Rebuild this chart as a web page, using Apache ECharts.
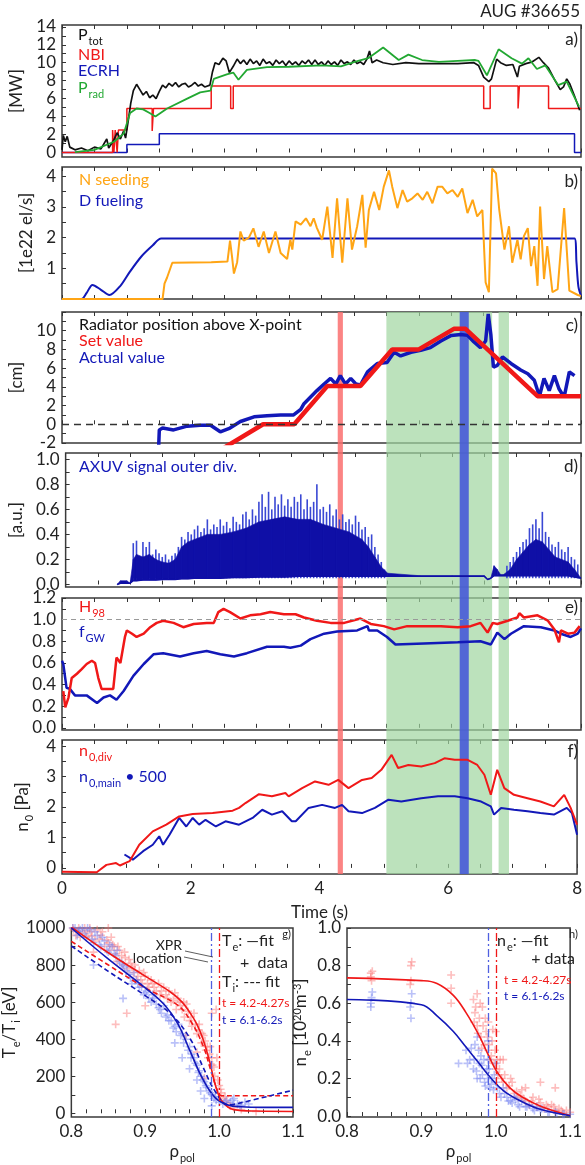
<!DOCTYPE html>
<html>
<head>
<meta charset="utf-8">
<script src="https://cdn.jsdelivr.net/npm/echarts@6/dist/echarts.min.js"></script>
<style>
  html, body { margin: 0; padding: 0; background: #fff; }
  #chart { width: 585px; height: 1165px; }
</style>
</head>
<body>
<div id="chart"></div>
<script>
// ---- panel a) heating / radiated power [MW]
const ptot = [[0,0.3],[0.02,1.9],[0.05,1.2],[0.08,1.8],[0.12,0.6],[0.2,0.3],[0.3,0.5],[0.4,0.2],[0.5,0.6],[0.6,0.4],[0.69,1.5],[0.72,0.5],[0.8,1.4],[0.85,2.2],[0.9,1.5],[0.95,2.4],[0.98,1.6],[1.02,3.5],[1.06,5.5],[1.1,6.9],[1.15,7.6],[1.2,7.0],[1.25,6.4],[1.3,6.8],[1.35,6.1],[1.4,6.4],[1.45,6.0],[1.5,6.8],[1.55,7.5],[1.6,7.2],[1.65,7.7],[1.7,7.4],[1.75,7.8],[1.8,7.3],[1.85,7.6],[1.9,7.7],[1.95,7.3],[2.0,7.5],[2.05,7.8],[2.1,7.4],[2.15,7.6],[2.2,7.3],[2.28,7.5],[2.32,9.0],[2.36,10.0],[2.42,9.8],[2.48,10.5],[2.53,10.2],[2.58,8.9],[2.64,9.6],[2.7,10.4],[2.75,9.9],[2.8,10.3],[2.85,9.8],[2.9,10.4],[2.95,9.9],[3.0,10.2],[3.05,9.7],[3.1,10.4],[3.15,9.9],[3.2,10.1],[3.25,9.7],[3.3,10.3],[3.35,9.9],[3.4,10.2],[3.45,9.7],[3.5,10.2],[3.55,9.8],[3.6,10.1],[3.65,9.7],[3.7,10.2],[3.75,9.9],[3.8,10.3],[3.85,9.8],[3.9,10.3],[3.95,9.8],[4.0,10.1],[4.05,9.7],[4.1,10.2],[4.15,9.8],[4.2,10.1],[4.25,9.7],[4.3,10.3],[4.35,9.9],[4.4,10.1],[4.45,9.8],[4.5,10.3],[4.55,9.9],[4.6,10.1],[4.65,9.8],[4.7,10.4],[4.74,11.3],[4.78,10.0],[4.85,10.3],[4.95,10.0],[5.1,9.8],[5.3,10.0],[5.5,9.9],[5.8,9.9],[6.1,9.9],[6.35,10.0],[6.42,9.7],[6.5,8.4],[6.58,7.9],[6.62,8.2],[6.7,10.4],[6.76,10.0],[6.85,9.7],[6.95,9.8],[7.02,8.4],[7.05,9.6],[7.15,9.9],[7.25,10.1],[7.35,10.6],[7.42,10.0],[7.5,9.4],[7.6,8.0],[7.68,7.0],[7.73,7.3],[7.78,8.2],[7.83,7.6],[7.9,6.3],[7.98,4.7]];
const nbi = [[0,0],[0.78,0],[0.78,2.5],[0.8,2.5],[0.8,0],[0.82,0],[0.82,2.5],[0.85,2.5],[0.85,0],[0.87,0],[0.87,2.5],[1.0,2.5],[1.0,4.9],[1.39,4.9],[1.39,2.4],[1.41,2.4],[1.41,4.9],[2.3,4.9],[2.3,7.4],[2.6,7.4],[2.6,4.9],[2.64,4.9],[2.64,7.4],[6.5,7.4],[6.5,4.9],[6.6,4.9],[6.6,7.4],[7.03,7.4],[7.03,4.9],[7.05,4.9],[7.05,7.4],[7.5,7.4],[7.5,4.9],[8,4.9]];
const ecrh = [[0,0],[1.0,0],[1.0,0.9],[1.5,0.9],[1.5,2.1],[7.9,2.1],[7.9,0],[8,0]];
const prad = [[0.2,0.05],[0.5,0.3],[0.8,1.2],[0.95,2.1],[1.05,4.4],[1.15,4.9],[1.25,4.8],[1.35,4.4],[1.44,4.0],[1.62,4.9],[1.93,6.0],[2.13,6.7],[2.29,6.9],[2.34,8.2],[2.54,8.7],[2.64,8.9],[2.72,8.1],[2.85,9.2],[3.16,9.5],[3.5,9.55],[4.0,9.7],[4.3,9.6],[4.51,10.1],[4.72,10.5],[4.95,11.7],[5.19,10.3],[5.34,10.9],[5.55,10.3],[5.81,10.1],[6.1,10.2],[6.37,10.3],[6.42,10.2],[6.55,8.6],[6.73,11.5],[6.93,10.5],[7.09,9.9],[7.19,10.5],[7.32,9.3],[7.45,9.7],[7.65,7.5],[7.78,7.9],[7.97,5.1]];

// ---- panel b) gas valves [1e22 el/s]
const nSeed = [[0,0],[1.55,0],[1.58,0.5],[1.62,0.7],[1.7,1.18],[2.0,1.19],[2.3,1.2],[2.55,1.22],[2.59,1.9],[2.62,1.4],[2.65,0.83],[2.7,1.2],[2.75,2.2],[2.8,1.9],[2.88,2.0],[2.95,2.3],[3.03,1.7],[3.11,2.2],[3.19,1.5],[3.29,2.2],[3.37,1.5],[3.47,1.3],[3.52,1.93],[3.55,1.61],[3.6,2.53],[3.68,2.42],[3.76,2.63],[3.83,2.37],[3.88,2.63],[3.93,2.31],[4.01,1.93],[4.09,3.01],[4.17,1.34],[4.24,3.28],[4.32,1.18],[4.4,3.28],[4.47,1.61],[4.55,2.37],[4.63,3.39],[4.68,1.67],[4.73,2.9],[4.81,3.49],[4.89,2.9],[4.96,3.66],[5.04,4.19],[5.09,3.66],[5.17,2.96],[5.25,3.55],[5.32,3.17],[5.4,3.28],[5.48,3.44],[5.56,3.23],[5.63,3.49],[5.71,3.12],[5.79,3.66],[5.86,3.66],[5.94,3.44],[6.02,3.55],[6.1,3.33],[6.17,3.6],[6.25,2.8],[6.33,3.23],[6.4,2.69],[6.48,2.9],[6.53,0.54],[6.58,0.22],[6.63,4.25],[6.69,4.09],[6.74,2.9],[6.82,1.61],[6.89,2.37],[6.94,1.18],[7.02,1.93],[7.07,1.29],[7.12,2.05],[7.18,2.31],[7.23,1.07],[7.28,1.72],[7.33,0.43],[7.37,3.01],[7.43,0.65],[7.48,1.72],[7.56,0.22],[7.64,0.32],[7.74,2.96],[7.82,0.27],[7.95,0.13],[8.0,0.1]];
const dFuel = [[0,0],[0.3,0],[0.38,0.2],[0.47,0.46],[0.6,0.3],[0.73,0.13],[0.9,0.43],[1.05,0.9],[1.23,1.4],[1.4,1.75],[1.53,1.97],[7.9,1.97],[7.93,1.2],[7.96,0.4],[8.0,0.1]];

// ---- panel c) radiator position [cm]
const xprSet = [[2.5,-2.5],[3.1,0],[3.58,0],[4.09,4.1],[4.6,4.1],[5.09,8.0],[5.5,8.0],[6.04,10.2],[6.22,10.2],[7.33,3.0],[8,3.0]];
const xprAct = [[1.49,-2.4],[1.5,-0.6],[1.55,-0.4],[1.72,-0.6],[1.93,-0.2],[2.13,-0.1],[2.29,-0.1],[2.44,-0.8],[2.59,-0.4],[2.75,0.3],[2.96,0.8],[3.16,0.9],[3.37,1.0],[3.57,1.0],[3.68,1.6],[3.73,2.2],[3.93,3.6],[4.04,4.3],[4.14,4.9],[4.22,4.3],[4.29,5.2],[4.37,4.3],[4.45,4.9],[4.53,4.3],[4.6,4.2],[4.71,5.6],[4.86,6.5],[5.01,6.6],[5.12,7.7],[5.22,7.3],[5.38,7.7],[5.53,7.9],[5.68,8.2],[5.84,8.9],[6.0,9.5],[6.15,9.6],[6.25,9.5],[6.35,8.8],[6.45,8.2],[6.53,8.9],[6.57,11.8],[6.61,9.6],[6.65,6.1],[6.71,6.3],[6.79,7.2],[6.92,6.5],[7.07,5.8],[7.18,5.4],[7.28,4.7],[7.36,3.0],[7.43,4.9],[7.51,3.6],[7.59,5.2],[7.66,3.8],[7.74,2.9],[7.82,5.6],[7.9,5.2]];

// ---- panel d) AXUV outer divertor [a.u.]
const axuvTime = [0.8,0.85,0.95,1.0,1.05,1.1,1.2,1.3,1.4,1.5,1.6,1.7,1.8,1.9,2.0,2.2,2.4,2.6,2.8,3.0,3.2,3.4,3.6,3.8,4.0,4.2,4.4,4.6,4.7,4.8,4.9,5.0,5.5,6.0,6.5,6.55,6.6,6.65,6.7,6.75,6.8,6.9,7.0,7.1,7.2,7.3,7.4,7.5,7.6,7.7,7.8,7.9,8.0];
const axuvBase = [0,0.01,0.01,0.01,0.03,0.03,0.035,0.035,0.035,0.04,0.04,0.04,0.045,0.045,0.05,0.05,0.05,0.055,0.055,0.06,0.06,0.06,0.065,0.065,0.065,0.065,0.065,0.065,0.065,0.065,0.065,0.065,0.065,0.065,0.065,0.04,0.05,0.07,0.07,0.07,0.07,0.07,0.07,0.07,0.07,0.07,0.07,0.07,0.07,0.07,0.07,0.06,0.05];
const axuvDense = [0,0.03,0.03,0.01,0.2,0.24,0.22,0.24,0.2,0.18,0.17,0.2,0.3,0.34,0.36,0.4,0.4,0.42,0.45,0.5,0.52,0.54,0.52,0.52,0.48,0.45,0.42,0.36,0.3,0.22,0.14,0.09,0.07,0.07,0.07,0.04,0.05,0.15,0.12,0.08,0.08,0.12,0.2,0.26,0.32,0.36,0.34,0.28,0.22,0.2,0.18,0.12,0.05];
const axuvSpikes = [[1.05,0.33],[1.1,0.35],[1.15,0.22],[1.2,0.34],[1.25,0.3],[1.3,0.34],[1.35,0.24],[1.4,0.28],[1.45,0.25],[1.5,0.22],[1.55,0.24],[1.6,0.2],[1.65,0.23],[1.7,0.25],[1.75,0.3],[1.8,0.38],[1.85,0.36],[1.9,0.42],[1.95,0.4],[2.0,0.44],[2.05,0.47],[2.1,0.42],[2.15,0.45],[2.2,0.52],[2.25,0.44],[2.3,0.48],[2.35,0.46],[2.4,0.52],[2.45,0.47],[2.5,0.5],[2.55,0.45],[2.6,0.54],[2.65,0.5],[2.7,0.48],[2.75,0.56],[2.8,0.58],[2.85,0.52],[2.9,0.6],[2.95,0.55],[3.0,0.66],[3.05,0.72],[3.1,0.62],[3.15,0.74],[3.2,0.6],[3.25,0.7],[3.3,0.64],[3.35,0.72],[3.4,0.63],[3.45,0.68],[3.5,0.62],[3.55,0.7],[3.6,0.66],[3.65,0.72],[3.7,0.6],[3.75,0.68],[3.8,0.62],[3.85,0.66],[3.9,0.8],[3.95,0.6],[4.0,0.62],[4.05,0.58],[4.1,0.64],[4.15,0.55],[4.2,0.6],[4.25,0.52],[4.3,0.56],[4.35,0.5],[4.4,0.52],[4.45,0.48],[4.5,0.55],[4.55,0.5],[4.6,0.44],[4.65,0.46],[4.7,0.38],[4.75,0.4],[4.8,0.3],[4.85,0.24],[4.9,0.18],[4.95,0.12],[6.85,0.15],[6.9,0.18],[6.95,0.22],[7.0,0.26],[7.05,0.3],[7.1,0.34],[7.15,0.36],[7.2,0.45],[7.25,0.48],[7.3,0.52],[7.35,0.45],[7.4,0.58],[7.45,0.42],[7.5,0.38],[7.55,0.32],[7.6,0.3],[7.65,0.34],[7.7,0.28],[7.75,0.26],[7.8,0.3],[7.85,0.22],[7.9,0.2],[7.95,0.16]];

// ---- panel e) confinement and density
const h98 = [[0.02,0.34],[0.05,0.19],[0.1,0.28],[0.15,0.46],[0.23,0.5],[0.3,0.54],[0.38,0.59],[0.46,0.62],[0.51,0.6],[0.56,0.46],[0.61,0.36],[0.69,0.36],[0.79,0.36],[0.84,0.65],[0.9,0.6],[0.97,0.84],[1.0,0.9],[1.08,0.87],[1.15,0.84],[1.26,0.87],[1.36,0.93],[1.46,0.97],[1.56,0.99],[1.72,0.97],[1.87,0.93],[2.03,0.96],[2.23,0.97],[2.34,0.97],[2.41,1.07],[2.49,1.1],[2.59,1.07],[2.75,1.01],[2.9,1.04],[3.06,1.05],[3.21,1.07],[3.42,1.05],[3.6,1.05],[3.73,1.02],[3.93,0.99],[4.14,0.97],[4.35,0.97],[4.6,1.01],[4.76,0.96],[4.96,0.94],[5.12,0.91],[5.32,0.94],[5.58,0.94],[5.84,0.94],[6.1,0.93],[6.3,0.94],[6.45,0.97],[6.56,0.88],[6.64,0.97],[6.71,0.96],[6.87,0.99],[7.02,1.02],[7.05,1.06],[7.12,1.02],[7.33,1.04],[7.49,0.99],[7.59,0.91],[7.66,0.79],[7.69,0.9],[7.8,0.87],[7.9,0.88],[7.98,0.94]];
const fgw = [[0.0,0.62],[0.02,0.59],[0.07,0.37],[0.12,0.36],[0.2,0.3],[0.38,0.3],[0.54,0.23],[0.64,0.28],[0.74,0.3],[0.84,0.26],[0.95,0.34],[1.1,0.48],[1.26,0.59],[1.41,0.68],[1.56,0.69],[1.82,0.66],[2.03,0.69],[2.23,0.71],[2.44,0.68],[2.65,0.66],[2.85,0.69],[3.16,0.75],[3.42,0.75],[3.52,0.74],[3.68,0.76],[3.83,0.82],[4.04,0.87],[4.24,0.89],[4.55,0.9],[4.71,0.94],[4.73,0.9],[4.86,0.9],[5.01,0.84],[5.14,0.77],[5.58,0.78],[6.1,0.79],[6.45,0.8],[6.61,0.77],[6.71,0.88],[6.82,0.82],[6.92,0.87],[7.12,0.94],[7.38,0.93],[7.59,0.9],[7.69,0.87],[7.84,0.84],[7.95,0.87],[8.0,0.92]];

// ---- panel f) neutral pressure [Pa]
const n0div = [[0.0,-0.13],[0.54,-0.14],[0.59,-0.06],[0.69,0.1],[0.84,0.16],[0.9,0.08],[1.05,0.22],[1.2,0.76],[1.41,1.2],[1.62,1.42],[1.82,1.69],[2.03,1.77],[2.34,1.8],[2.65,1.88],[2.75,1.97],[2.85,2.13],[3.06,2.42],[3.26,2.35],[3.47,2.46],[3.52,2.35],[3.73,2.62],[3.93,2.84],[4.14,2.73],[4.29,2.89],[4.45,2.62],[4.66,2.89],[4.81,2.95],[4.96,3.22],[5.12,3.71],[5.22,3.28],[5.38,3.38],[5.58,3.33],[5.79,3.44],[5.94,3.6],[6.1,3.55],[6.3,3.55],[6.45,3.38],[6.56,3.06],[6.66,2.4],[6.76,3.22],[6.87,2.62],[7.02,2.4],[7.23,2.29],[7.43,2.18],[7.64,2.02],[7.8,2.4],[7.9,1.97],[8.0,1.42]];
const n0main = [[0.97,0.44],[1.1,0.27],[1.26,0.55],[1.41,0.76],[1.51,1.04],[1.57,0.76],[1.67,1.09],[1.82,1.64],[1.93,1.36],[2.03,1.64],[2.13,1.42],[2.23,1.58],[2.39,1.36],[2.54,1.53],[2.75,1.42],[2.96,1.64],[3.11,1.91],[3.26,1.75],[3.42,1.86],[3.57,1.53],[3.63,1.53],[3.83,1.97],[4.04,2.07],[4.24,1.97],[4.35,2.07],[4.45,1.86],[4.66,1.8],[4.86,1.97],[5.07,2.24],[5.27,2.18],[5.58,2.29],[5.84,2.35],[6.1,2.35],[6.3,2.29],[6.51,2.18],[6.66,2.02],[6.71,1.75],[6.82,1.97],[7.02,1.91],[7.23,1.86],[7.43,1.8],[7.64,1.75],[7.84,1.97],[7.92,1.8],[8.0,1.09]];

// ---- time windows marked in c)-f)
const redWindow = [4.25, 4.33];
const blueWindow = [6.13, 6.27];
const greenWindows = [[5.0, 6.63], [6.73, 6.89]];

// ---- panel g) Te / Ti profiles [eV]
const teFitRed = [[0.8,1005],[0.849,869],[0.9,740],[0.935,652],[0.95,600],[0.961,540],[0.97,480],[0.978,402],[0.987,283],[0.995,151],[1.004,65],[1.02,20],[1.05,12],[1.1,10]];
const teFitBlue = [[0.8,1000],[0.849,836],[0.9,677],[0.926,586],[0.944,484],[0.961,333],[0.978,184],[0.995,83],[1.012,45],[1.03,35],[1.06,32],[1.1,32]];
const tiFitRed = [[0.8,928],[0.849,803],[0.9,677],[0.943,586],[0.961,501],[0.978,367],[0.99,216],[0.999,110],[1.003,95],[1.02,95],[1.1,95]];
const tiFitBlue = [[0.8,903],[0.849,769],[0.9,635],[0.935,534],[0.961,401],[0.978,251],[0.995,116],[1.012,45],[1.02,48],[1.1,125]];
const teDataRed = [[0.803,990],[0.806,960],[0.81,1000],[0.815,975],[0.82,985],[0.825,1000],[0.828,955],[0.832,930],[0.835,990],[0.84,960],[0.845,900],[0.848,935],[0.852,880],[0.856,910],[0.86,860],[0.862,820],[0.865,880],[0.87,800],[0.873,840],[0.876,780],[0.88,810],[0.884,760],[0.888,720],[0.892,770],[0.896,700],[0.9,740],[0.905,680],[0.91,700],[0.915,660],[0.92,640],[0.925,680],[0.93,620],[0.935,600],[0.94,650],[0.942,560],[0.946,600],[0.95,560],[0.953,520],[0.956,590],[0.96,500],[0.963,470],[0.966,540],[0.97,430],[0.973,480],[0.976,380],[0.979,420],[0.982,340],[0.985,300],[0.988,360],[0.991,260],[0.994,200],[0.997,300],[1.0,150],[1.003,110],[1.006,80],[1.01,60],[1.015,40],[1.02,30],[1.03,20],[1.05,10],[0.86,480],[0.875,540],[0.9,580],[0.99,540],[0.98,190],[0.85,1000],[0.83,870],[0.955,420],[0.97,330],[0.996,560],
  [0.802,1000],[0.808,985],[0.812,950],[0.818,1000],[0.822,960],[0.827,980],[0.838,940],[0.842,980],[0.85,920],[0.854,950],[0.858,900],[0.863,900],[0.868,850],[0.872,870],[0.878,830],[0.882,790],[0.886,800],[0.89,740],[0.894,720],[0.898,760],[0.903,700],[0.908,720],[0.912,680],[0.918,700],[0.922,660],[0.928,640],[0.932,660],[0.938,610],[0.944,620],[0.948,580],[0.952,600],[0.958,550],[0.962,520],[0.968,480],[0.972,450],[0.977,430],[0.981,390],[0.984,360],[0.987,320],[0.99,300],[0.993,250],[0.998,180],[1.002,130],[1.008,90],[1.012,50]];
const teDataBlue = [[0.805,1000],[0.81,980],[0.815,1000],[0.82,950],[0.825,990],[0.83,920],[0.835,960],[0.84,900],[0.845,930],[0.85,870],[0.855,900],[0.86,850],[0.865,820],[0.87,800],[0.875,770],[0.88,730],[0.885,760],[0.89,700],[0.895,680],[0.9,650],[0.905,620],[0.91,640],[0.915,590],[0.92,560],[0.925,580],[0.93,530],[0.935,500],[0.94,470],[0.945,480],[0.95,430],[0.955,400],[0.96,360],[0.963,320],[0.966,300],[0.97,260],[0.973,230],[0.976,200],[0.98,170],[0.983,140],[0.986,120],[0.99,100],[0.993,80],[0.996,70],[1.0,60],[1.005,50],[1.01,70],[1.015,60],[1.02,80],[1.025,50],[1.03,40],[0.94,380],[0.96,240],[0.97,180],[0.98,80],[0.87,620],[0.83,800],[0.95,300],[0.99,40],[0.975,120],
  [0.802,1000],[0.808,960],[0.812,990],[0.818,970],[0.822,1000],[0.828,940],[0.832,980],[0.838,910],[0.842,950],[0.848,880],[0.852,910],[0.858,860],[0.862,880],[0.868,810],[0.872,790],[0.878,750],[0.882,700],[0.888,720],[0.892,680],[0.898,640],[0.902,660],[0.908,600],[0.912,620],[0.918,570],[0.922,540],[0.928,520],[0.932,500],[0.938,460],[0.942,440],[0.948,420],[0.952,380],[0.958,340],[0.962,300],[0.968,270],[0.972,220],[0.978,180],[0.982,150],[0.988,110],[0.995,90],[1.008,60],[1.018,70],[1.028,45],[1.035,60],[1.04,50]];

// ---- panel h) ne profiles [1e20 m^-3]
const neFitRed = [[0.8,0.735],[0.9,0.72],[0.921,0.705],[0.943,0.642],[0.96,0.55],[0.977,0.433],[0.989,0.333],[1.002,0.233],[1.019,0.15],[1.036,0.1],[1.062,0.05],[1.1,0.003]];
const neFitBlue = [[0.8,0.62],[0.9,0.592],[0.921,0.533],[0.943,0.45],[0.96,0.367],[0.977,0.283],[0.994,0.2],[1.011,0.133],[1.036,0.075],[1.062,0.033],[1.1,0.002]];
const neDataRed = [[0.832,0.74],[0.832,0.76],[0.833,0.72],[0.834,0.77],[0.886,0.8],[0.887,0.82],[0.886,0.72],[0.885,0.7],[0.94,0.75],[0.94,0.6],[0.97,0.62],[0.972,0.55],[0.975,0.48],[0.978,0.52],[0.98,0.42],[0.982,0.58],[0.985,0.38],[0.987,0.45],[0.99,0.35],[0.992,0.3],[0.995,0.4],[0.998,0.28],[1.0,0.25],[1.003,0.22],[1.006,0.3],[1.01,0.18],[1.015,0.15],[1.02,0.2],[1.025,0.12],[1.03,0.1],[1.035,0.14],[1.04,0.08],[1.045,0.06],[1.05,0.1],[1.055,0.05],[1.06,0.07],[1.065,0.04],[1.07,0.05],[1.08,0.03],[1.09,0.02],[1.1,0.02],[1.06,0.18],[1.0,0.45],[0.99,0.5],[1.01,0.3],[0.975,0.65],[1.04,0.15],[1.075,0.06],[1.085,0.04],
  [0.971,0.5],[0.973,0.58],[0.976,0.44],[0.979,0.6],[0.981,0.36],[0.983,0.48],[0.986,0.52],[0.989,0.42],[0.991,0.38],[0.994,0.32],[0.996,0.46],[0.999,0.35],[1.002,0.3],[1.005,0.25],[1.008,0.2],[1.012,0.22],[1.018,0.16],[1.022,0.18],[1.028,0.13],[1.033,0.11],[1.038,0.09],[1.048,0.08],[1.058,0.09],[1.068,0.06],[1.078,0.05],[1.088,0.03],[1.095,0.03],[0.94,0.68],[1.08,0.15]];
const neDataBlue = [[0.832,0.58],[0.832,0.6],[0.833,0.63],[0.834,0.66],[0.886,0.52],[0.886,0.6],[0.887,0.65],[0.885,0.58],[0.96,0.35],[0.965,0.3],[0.97,0.25],[0.972,0.38],[0.975,0.2],[0.978,0.28],[0.98,0.32],[0.982,0.22],[0.985,0.18],[0.988,0.25],[0.99,0.3],[0.992,0.15],[0.995,0.2],[0.998,0.22],[1.0,0.18],[1.005,0.12],[1.01,0.15],[1.015,0.1],[1.02,0.08],[1.025,0.1],[1.03,0.06],[1.035,0.08],[1.04,0.05],[1.05,0.04],[1.06,0.03],[1.07,0.02],[1.08,0.02],[1.09,0.01],[1.1,0.01],[0.99,0.4],[1.0,0.28],[0.975,0.42],[1.045,0.06],[1.055,0.05],
  [0.962,0.28],[0.967,0.36],[0.971,0.3],[0.974,0.24],[0.977,0.35],[0.979,0.2],[0.981,0.27],[0.984,0.3],[0.986,0.16],[0.989,0.2],[0.991,0.25],[0.994,0.17],[0.997,0.14],[1.002,0.15],[1.007,0.1],[1.012,0.12],[1.017,0.08],[1.022,0.07],[1.027,0.09],[1.032,0.05],[1.042,0.05],[1.052,0.03],[1.062,0.04],[1.072,0.02],[1.082,0.015],[1.092,0.01],[0.95,0.28]];
const xprRhoRed = 0.999;
const xprRhoBlue = 0.993;

// ---- styling helpers
const RED = '#f01818', BLUE = '#1218b8', GREEN = '#22a832', ORANGE = '#ffa515', BLACK = '#111';
const FONT = 'Lato';
const PLUS = 'path://M4,0h2v4h4v2h-4v4h-2v-4h-4v-2h4z';

function steps(a, b, d) {
  let out = [];
  for (let v = a; v <= b + 1e-9; v += d) out.push(Math.round(v * 1000) / 1000);
  return out;
}

const panelTops = [25, 167, 312, 453, 598, 740];
const panelHeights = [132, 132, 131, 134, 132, 134];

let grids = [];
for (let i = 0; i < 6; i++) {
  grids.push({ left: 62, width: 519, top: panelTops[i], height: panelHeights[i], show: true, borderColor: '#3a3a3a', borderWidth: 1.5 });
}
grids.push({ left: 62, width: 231, top: 928, height: 204, show: true, borderColor: '#3a3a3a', borderWidth: 1.5 });
grids.push({ left: 347, width: 233, top: 928, height: 204, show: true, borderColor: '#3a3a3a', borderWidth: 1.5 });
grids.push({ left: 62, width: 519, top: 312, height: 562, show: false });

const tickStyle = { show: true, inside: true, length: 4, lineStyle: { color: '#333', width: 1 } };
const labelStyle = { fontFamily: FONT, fontSize: 17, color: '#222' };

let xAxes = [];
for (let i = 0; i < 6; i++) {
  xAxes.push({
    type: 'value', gridIndex: i, min: 0, max: 8, interval: 0.5, position: 'bottom',
    axisLine: { show: false }, splitLine: { show: false }, axisTick: tickStyle,
    axisLabel: i === 5 ? Object.assign({ margin: 6, formatter: function (v) { return v % 2 === 0 ? String(v) : ''; } }, labelStyle) : { show: false },
    name: i === 5 ? 'Time (s)' : '', nameLocation: 'middle', nameGap: 30,
    nameTextStyle: { fontFamily: FONT, fontSize: 17, color: '#222' }
  });
}
for (let i = 0; i < 6; i++) {
  xAxes.push({
    type: 'value', gridIndex: i, min: 0, max: 8, interval: 0.5, position: 'top',
    axisLine: { show: false }, splitLine: { show: false }, axisTick: tickStyle, axisLabel: { show: false }
  });
}
const subRich = {
  n: { fontFamily: FONT, fontSize: 17, lineHeight: 17, verticalAlign: 'top', color: '#222' },
  s: { fontFamily: FONT, fontSize: 11, lineHeight: 11, padding: [10, 0, 0, 1], verticalAlign: 'top', color: '#222' },
  u: { fontFamily: FONT, fontSize: 11, lineHeight: 11, padding: [0, 0, 0, 0], verticalAlign: 'top', color: '#222' }
};
// g and h rho axes
for (let k = 0; k < 2; k++) {
  xAxes.push({
    type: 'value', gridIndex: 6 + k, min: 0.8, max: 1.1, position: 'bottom',
    axisLine: { show: false }, splitLine: { show: false },
    axisTick: Object.assign({ customValues: steps(0.8, 1.1, 0.02) }, tickStyle),
    axisLabel: Object.assign({ customValues: [0.8, 0.9, 1.0, 1.1], formatter: function (v) { return v.toFixed(1); }, margin: 6 }, labelStyle),
    name: '{n|ρ}{s|pol}', nameLocation: 'middle', nameGap: 26,
    nameTextStyle: { rich: subRich }
  });
}
// band grid axis
xAxes.push({ type: 'value', gridIndex: 8, min: 0, max: 8, show: false });

function yAxis(grid, min, max, labels, ticks, fmt, name, gap) {
  return {
    type: 'value', gridIndex: grid, min: min, max: max,
    axisLine: { show: false }, splitLine: { show: false },
    axisTick: Object.assign({ customValues: ticks }, tickStyle),
    axisLabel: Object.assign({ customValues: labels, margin: 6, formatter: fmt }, labelStyle),
    name: name, nameLocation: 'middle', nameGap: gap, nameRotate: 90,
    nameTextStyle: { fontFamily: FONT, fontSize: 17, color: '#222', rich: subRich }
  };
}
const fmtInt = function (v) { return String(Math.round(v)); };
const fmt1 = function (v) { return v.toFixed(1); };
let yAxes = [
  yAxis(0, -0.5, 14.2, steps(0, 14, 2), steps(0, 14, 1), fmtInt, '[MW]', 30),
  yAxis(1, 0, 4.3, [1, 2, 3, 4], steps(0.5, 4, 0.5), fmtInt, '[1e22 el/s]', 26),
  yAxis(2, -2, 12, steps(-2, 10, 2), steps(-2, 12, 1), fmtInt, '[cm]', 32),
  yAxis(3, -0.02, 1.05, steps(0, 1, 0.2), steps(0, 1, 0.1), fmt1, '[a.u.]', 36),
  yAxis(4, -0.02, 1.2, steps(0, 1.2, 0.2), steps(0, 1.2, 0.1), fmt1, '', 30),
  yAxis(5, -0.2, 4.2, steps(0, 4, 1), steps(0, 4, 0.5), fmtInt, '{n|n}{s|0}{n| [Pa]}', 22),
  yAxis(6, -20, 1000, steps(0, 1000, 200), steps(0, 1000, 100), fmtInt, '{n|T}{s|e}{n|/T}{s|i}{n| [eV]}', 42),
  yAxis(7, -0.005, 1.0, steps(0, 1, 0.2), steps(0, 1, 0.1), fmt1, '{n|n}{s|e}{n| [10}{u|20}{n|m}{u|-3}{n|]}', 28),
  { type: 'value', gridIndex: 8, min: 0, max: 1, show: false }
];

function line(xi, yi, data, color, width, extra) {
  return Object.assign({
    type: 'line', xAxisIndex: xi, yAxisIndex: yi, data: data, showSymbol: false, symbol: 'none',
    lineStyle: { color: color, width: width }, itemStyle: { color: color }, z: 3, silent: true
  }, extra || {});
}
function plus(xi, yi, data, color) {
  return { type: 'scatter', xAxisIndex: xi, yAxisIndex: yi, data: data, symbol: PLUS, symbolSize: 8, itemStyle: { color: color }, z: 2, silent: true };
}

let bandAreas = [[{ xAxis: redWindow[0], itemStyle: { color: 'rgba(250,110,110,0.85)' } }, { xAxis: redWindow[1] }]];
greenWindows.forEach(function (w) {
  bandAreas.push([{ xAxis: w[0], itemStyle: { color: 'rgba(160,214,160,0.7)' } }, { xAxis: w[1] }]);
});
bandAreas.push([{ xAxis: blueWindow[0], itemStyle: { color: 'rgba(70,90,215,0.9)' } }, { xAxis: blueWindow[1] }]);

// AXUV "dense" band between baseline and envelope, one quad per time step
const axuvSegs = axuvTime.slice(0, -1).map(function (t, i) {
  return [t, axuvBase[i], axuvDense[i], axuvTime[i + 1], axuvBase[i + 1], axuvDense[i + 1]];
});

let series = [
  { type: 'line', xAxisIndex: 14, yAxisIndex: 8, data: [], z: 0, silent: true,
    markArea: { silent: true, data: bandAreas } },
  // a)
  line(0, 0, ecrh, BLUE, 1.5),
  line(0, 0, nbi, RED, 1.5),
  line(0, 0, ptot, BLACK, 1.7),
  line(0, 0, prad, GREEN, 1.8),
  // b)
  line(1, 1, dFuel, BLUE, 2, { smooth: 0.3 }),
  line(1, 1, nSeed, ORANGE, 2),
  // c)
  line(2, 2, xprAct, BLUE, 3.5, {
    markLine: { silent: true, symbol: 'none', label: { show: false }, data: [{ yAxis: 0 }],
      lineStyle: { color: '#333', type: [7, 5], width: 1.3 } }
  }),
  line(2, 2, xprSet, RED, 4.5),
  // d)
  { type: 'custom', xAxisIndex: 3, yAxisIndex: 3, data: axuvSpikes, z: 2, silent: true,
    encode: { x: 0, y: 1 },
    renderItem: function (params, api) {
      let p0 = api.coord([api.value(0), 0.05]);
      let p1 = api.coord([api.value(0), api.value(1)]);
      return { type: 'line', shape: { x1: p0[0], y1: p0[1], x2: p1[0], y2: p1[1] }, style: { stroke: '#3a48d4', lineWidth: 1.6 } };
    } },
  { type: 'custom', xAxisIndex: 3, yAxisIndex: 3, data: axuvSegs, z: 3, silent: true,
    encode: { x: [0, 3], y: [1, 2, 4, 5] },
    renderItem: function (params, api) {
      let pts = [
        api.coord([api.value(0), api.value(1)]), api.coord([api.value(0), api.value(2)]),
        api.coord([api.value(3), api.value(5)]), api.coord([api.value(3), api.value(4)])
      ];
      return { type: 'polygon', shape: { points: pts }, style: { fill: '#0f0fa6', stroke: '#0f0fa6', lineWidth: 0.6 } };
    } },
  line(3, 3, axuvTime.map(function (t, i) { return [t, axuvBase[i]]; }), '#0f0fa6', 1.5),
  // e)
  line(4, 4, fgw, BLUE, 2.5, {
    markLine: { silent: true, symbol: 'none', label: { show: false }, data: [{ yAxis: 1 }],
      lineStyle: { color: '#999', type: [5, 4], width: 1 } }
  }),
  line(4, 4, h98, RED, 2.5),
  // f)
  line(5, 5, n0main, BLUE, 2),
  line(5, 5, n0div, RED, 2),
  // g)
  plus(12, 6, teDataRed, 'rgba(250,120,120,0.6)'),
  plus(12, 6, teDataBlue, 'rgba(110,125,240,0.6)'),
  line(12, 6, teFitRed, RED, 1.6, { smooth: 0.4 }),
  line(12, 6, tiFitRed, RED, 1.6, { smooth: 0.4, lineStyle: { color: RED, width: 1.6, type: [5, 3] } }),
  line(12, 6, teFitBlue, BLUE, 1.6, { smooth: 0.4 }),
  line(12, 6, tiFitBlue, BLUE, 1.6, { smooth: 0.4, lineStyle: { color: BLUE, width: 1.6, type: [5, 3] } }),
  line(12, 6, [], RED, 1, {
    markLine: { silent: true, symbol: 'none', label: { show: false },
      data: [{ xAxis: xprRhoRed, lineStyle: { color: RED } }, { xAxis: xprRhoBlue, lineStyle: { color: '#5060e0' } }],
      lineStyle: { type: [8, 3, 2, 3], width: 1.3 } }
  }),
  // h)
  plus(13, 7, neDataRed, 'rgba(250,120,120,0.6)'),
  plus(13, 7, neDataBlue, 'rgba(110,125,240,0.6)'),
  line(13, 7, neFitRed, RED, 1.6, { smooth: 0.4 }),
  line(13, 7, neFitBlue, BLUE, 1.6, { smooth: 0.4 }),
  line(13, 7, [], RED, 1, {
    markLine: { silent: true, symbol: 'none', label: { show: false },
      data: [{ xAxis: xprRhoRed, lineStyle: { color: RED } }, { xAxis: xprRhoBlue, lineStyle: { color: '#5060e0' } }],
      lineStyle: { type: [8, 3, 2, 3], width: 1.3 } }
  })
];

// ---- text annotations
const legRich = {
  n: { fontFamily: FONT, fontSize: 16, lineHeight: 16, verticalAlign: 'top' },
  s: { fontFamily: FONT, fontSize: 11, lineHeight: 11, padding: [9, 0, 0, 1], verticalAlign: 'top' }
};
function txt(x, y, text, color, size, align) {
  return {
    type: 'text', x: x, y: y, silent: true, z: 10,
    style: { text: text, fill: color, fontFamily: FONT, fontSize: size || 16, rich: legRich,
      align: align || 'left', textAlign: align || 'left', verticalAlign: 'top', textVerticalAlign: 'top' }
  };
}
let texts = [
  txt(580, 3, 'AUG #36655', '#222', 17, 'right'),
  txt(78, 27, '{n|P}{s|tot}', BLACK), txt(78, 47, 'NBI', RED), txt(78, 63, 'ECRH', BLUE), txt(78, 80, '{n|P}{s|rad}', GREEN),
  txt(79, 172, 'N seeding', ORANGE), txt(79, 193, 'D fueling', BLUE),
  txt(79, 317, 'Radiator position above X-point', BLACK), txt(79, 333, 'Set value', RED), txt(79, 350, 'Actual value', BLUE),
  txt(79, 459, 'AXUV signal outer div.', BLUE),
  txt(79, 599, '{n|H}{s|98}', RED), txt(79, 624, '{n|f}{s|GW}', BLUE),
  txt(79, 743, '{n|n}{s|0,div}', RED), txt(79, 769, '{n|n}{s|0,main}{n| • 500}', BLUE),
  txt(578, 31, 'a)', '#222', 17, 'right'), txt(578, 173, 'b)', '#222', 17, 'right'),
  txt(578, 317, 'c)', '#222', 17, 'right'), txt(578, 458, 'd)', '#222', 17, 'right'),
  txt(578, 599, 'e)', '#222', 17, 'right'), txt(578, 743, 'f)', '#222', 17, 'right'),
  // g)
  txt(291, 929, 'g)', '#222', 11, 'right'),
  txt(182, 938, 'XPR', '#222', 14, 'right'), txt(182, 951, 'location', '#222', 14, 'right'),
  txt(222, 933, '{n|T}{s|e}{n|: —fit}', '#222'), txt(288, 955, '+  data', '#222', 16, 'right'),
  txt(222, 974, '{n|T}{s|i}{n|: --- fit}', '#222'),
  txt(222, 997, 't = 4.2-4.27s', RED, 12), txt(222, 1014, 't = 6.1-6.2s', BLUE, 12),
  // h)
  txt(578, 929, 'h)', '#222', 11, 'right'),
  txt(497, 933, '{n|n}{s|e}{n|: —fit}', '#222'), txt(575, 951, '+ data', '#222', 16, 'right'),
  txt(504, 974, 't = 4.2-4.27s', RED, 12), txt(504, 990, 't = 6.1-6.2s', BLUE, 12),
  { type: 'line', silent: true, z: 10, shape: { x1: 185, y1: 951, x2: 213, y2: 957 }, style: { stroke: '#333', lineWidth: 0.8 } },
  { type: 'line', silent: true, z: 10, shape: { x1: 184, y1: 957, x2: 208, y2: 962 }, style: { stroke: '#333', lineWidth: 0.8 } }
];

let chart = echarts.init(document.getElementById('chart'), null, { renderer: 'canvas' });
chart.setOption({
  animation: false,
  backgroundColor: '#fff',
  grid: grids,
  xAxis: xAxes,
  yAxis: yAxes,
  series: series,
  graphic: { elements: texts }
});
</script>
</body>
</html>
